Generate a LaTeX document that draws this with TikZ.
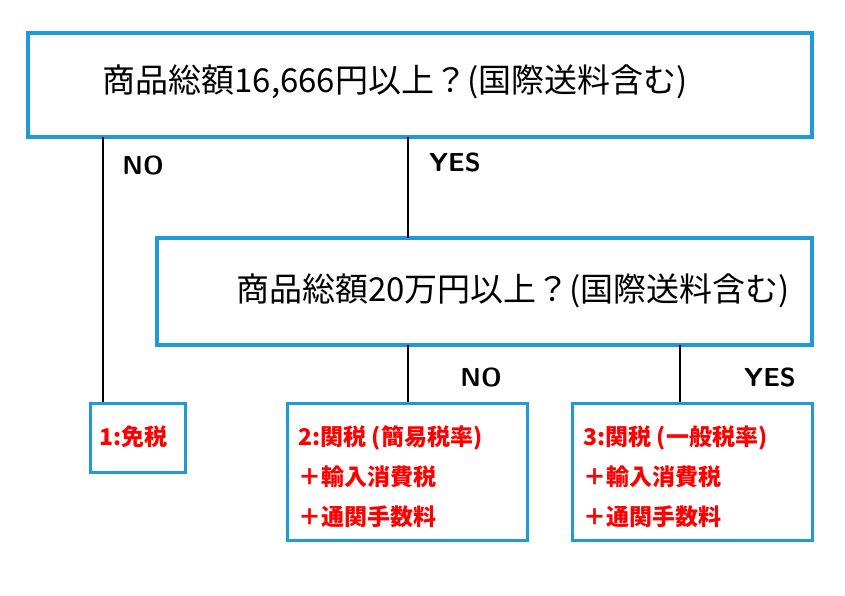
\documentclass[tikz,border=0pt]{standalone}
\usepackage{fontspec}
\setmainfont{Noto Sans CJK JP}
\usepackage{tikz}
\tikzset{
  qbox/.style={draw=boxblue, line width=3.5pt},
  ansbox/.style={draw=boxblue, line width=3pt},
  ans/.style={text=red, font=\fontsize{23}{40}\selectfont\bfseries, align=left, anchor=west},
  lbl/.style={font=\fontsize{26}{28}\selectfont\bfseries\sffamily}
}
\definecolor{boxblue}{HTML}{1E9BD7}
\begin{document}
\begin{tikzpicture}
[x=1pt,y=-1pt]
\useasboundingbox (0,0) rectangle (845,595);
\draw[qbox] (28,33) rectangle (812,137);
\node[font=\fontsize{33}{36}\selectfont] (q1) at (395,82) {商品総額16,666円以上？(国際送料含む)};
\draw[qbox] (157,238) rectangle (812,345);
\node[font=\fontsize{33}{36}\selectfont] (q2) at (513,291) {商品総額20万円以上？(国際送料含む)};

\coordinate (t1) at (103,137);
\coordinate (b1) at (103,403);
\coordinate (t2) at (408,137);
\coordinate (b2) at (408,238);
\coordinate (t3) at (408,345);
\coordinate (b3) at (408,403);
\coordinate (t4) at (680,345);
\coordinate (b4) at (680,403);
\foreach \from/\to in {t1/b1,t2/b2,t3/b3,t4/b4}
\draw[line width=1.5pt] (\from) -- (\to);

\node[lbl] (no1) at (143,165) {NO};
\node[lbl] (yes1) at (455,162) {YES};
\node[lbl] (no2) at (481,377) {NO};
\node[lbl] (yes2) at (770,377) {YES};

\draw[ansbox] (90,403) rectangle (185,472);
\node[ans] (a1) at (96,437) {1:免税};
\draw[ansbox] (287,403) rectangle (527,540);
\node[ans] (a2) at (295,477) {2:関税 (簡易税率)\\ ＋輸入消費税\\ ＋通関手数料};
\draw[ansbox] (572,403) rectangle (812,540);
\node[ans] (a3) at (580,477) {3:関税 (一般税率)\\ ＋輸入消費税\\ ＋通関手数料};
\end{tikzpicture}
\end{document}
